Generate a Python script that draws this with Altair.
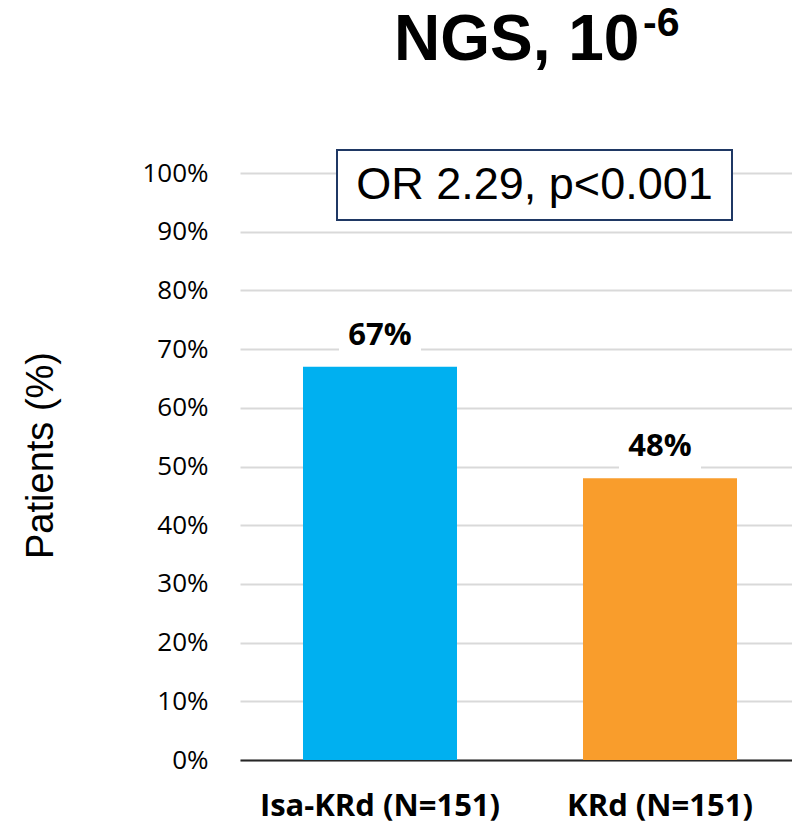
import altair as alt
import pandas as pd

# Response rates by treatment arm
arms = ["Isa-KRd (N=151)", "KRd (N=151)"]
rates = [67, 48]
colors = ["#00B0F0", "#F99D2C"]
y_ticks = [0, 10, 20, 30, 40, 50, 60, 70, 80, 90, 100]

annotation = "OR 2.29, p<0.001"
title_main = "NGS, 10"
title_sup = "-6"

df = pd.DataFrame({"arm": arms, "rate": rates, "color": colors})
df["label"] = df["rate"].astype(str) + "%"
df["box_lo"] = df["rate"] + 1.5
df["box_hi"] = df["rate"] + 8

W, H = 552, 587

x_enc = alt.X(
    "arm:N",
    sort=arms,
    scale=alt.Scale(range=[0, 560], paddingInner=0, paddingOuter=0),
    axis=alt.Axis(
        title=None,
        labelAngle=0,
        labelFont="Open Sans",
        labelFontWeight="bold",
        labelFontSize=31,
        labelColor="#000000",
        labelPadding=31,
        labelLimit=0,
        ticks=False,
        domain=True,
        domainColor="#262626",
        domainWidth=2,
        grid=False,
    ),
)

y_scale = alt.Scale(domain=[0, 100], nice=False)

bars = alt.Chart(df).mark_bar(size=154).encode(
    x=x_enc,
    y=alt.Y(
        "rate:Q",
        scale=y_scale,
        axis=alt.Axis(
            values=y_ticks,
            labelExpr="datum.value + '%'",
            labelFont="Open Sans",
            labelFontSize=26,
            labelColor="#000000",
            labelPadding=32,
            ticks=False,
            domain=False,
            grid=True,
            gridColor="#D9D9D9",
            gridWidth=2,
            title="Patients (%)",
            titleFont="Liberation Sans",
            titleFontSize=38,
            titleFontWeight="normal",
            titleColor="#000000",
            titleAngle=-90,
            titleX=-199,
            titleY=282,
            titleAlign="center",
            titleBaseline="middle",
        ),
    ),
    color=alt.Color("color:N", scale=None, legend=None),
)

# white backing behind the value labels (breaks the gridline)
label_bg = alt.Chart(df).mark_bar(size=82, color="white").encode(
    x=alt.X("arm:N", sort=arms),
    y=alt.Y("box_lo:Q", scale=y_scale),
    y2="box_hi:Q",
)

labels = alt.Chart(df).mark_text(
    font="Open Sans", fontWeight="bold", fontSize=31, color="#000000",
    baseline="alphabetic", dy=-22,
).encode(
    x=alt.X("arm:N", sort=arms),
    y=alt.Y("rate:Q", scale=y_scale),
    text="label:N",
)

one = pd.DataFrame({"t": [annotation]})

ann_box = alt.Chart(one).mark_rect(
    fill="white", stroke="#1F3864", strokeWidth=2
).encode(
    x=alt.value(97), x2=alt.value(492), y=alt.value(-23), y2=alt.value(47)
)

ann_text = alt.Chart(one).mark_text(
    font="Liberation Sans", fontSize=45, color="#000000",
    align="center", baseline="middle",
).encode(x=alt.value(294.5), y=alt.value(12), text="t:N")

title_a = alt.Chart(pd.DataFrame({"t": [title_main]})).mark_text(
    font="Liberation Sans", fontWeight="bold", fontSize=64, color="#000000",
    align="left", baseline="alphabetic",
).encode(x=alt.value(154), y=alt.value(-113), text="t:N")

title_b = alt.Chart(pd.DataFrame({"t": [title_sup]})).mark_text(
    font="Liberation Sans", fontWeight="bold", fontSize=41, color="#000000",
    align="left", baseline="alphabetic",
).encode(x=alt.value(403), y=alt.value(-137), text="t:N")

chart = (
    alt.layer(bars, label_bg, labels, ann_box, ann_text, title_a, title_b)
    .properties(
        width=W,
        height=H,
        background="white",
        autosize=alt.AutoSizeParams(type="none"),
        padding={"left": 240, "top": 173, "right": 0, "bottom": 65},
    )
    .configure_view(strokeWidth=0)
)

chart.save("out.html", embed_options={"renderer": "svg", "actions": False})
